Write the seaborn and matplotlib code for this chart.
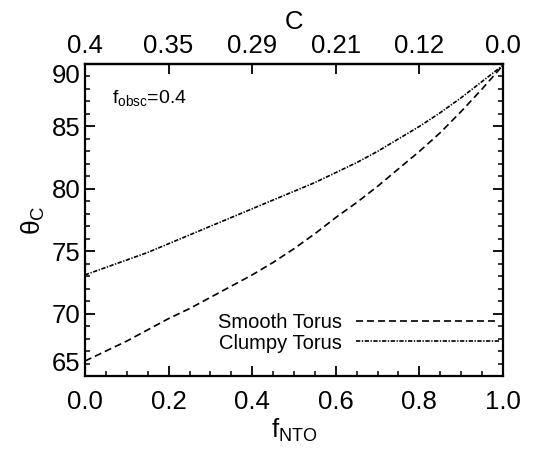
import numpy as np
import pandas as pd
import matplotlib
matplotlib.use("Agg")
import matplotlib.pyplot as plt
import seaborn as sns
from matplotlib.ticker import MultipleLocator, FixedLocator

# ---- data ----
f_nto = [0.0, 0.05, 0.1, 0.15, 0.2, 0.25, 0.3, 0.35, 0.4, 0.45, 0.5,
         0.55, 0.6, 0.65, 0.7, 0.75, 0.8, 0.85, 0.9, 0.95, 1.0]
smooth_theta = [66.2, 67.0, 67.8, 68.7, 69.6, 70.4, 71.3, 72.2, 73.1, 74.1, 75.2,
                76.4, 77.7, 78.9, 80.2, 81.6, 83.0, 84.5, 86.2, 88.0, 89.9]
clumpy_theta = [73.1, 73.7, 74.3, 74.9, 75.6, 76.3, 77.0, 77.7, 78.4, 79.1, 79.8,
                80.5, 81.3, 82.1, 83.0, 84.0, 85.0, 86.1, 87.3, 88.6, 89.9]
series_names = ["Smooth Torus", "Clumpy Torus"]
top_tick_pos = [0.0, 0.2, 0.4, 0.6, 0.8, 1.0]
top_tick_labels = ["0.4", "0.35", "0.29", "0.21", "0.12", "0.0"]

df = pd.DataFrame({
    "f_NTO": f_nto * 2,
    "theta": smooth_theta + clumpy_theta,
    "model": [series_names[0]] * len(f_nto) + [series_names[1]] * len(f_nto),
})

sns.set_theme(style="ticks")
plt.rcParams["font.family"] = ["Liberation Sans", "DejaVu Sans"]
plt.rcParams["mathtext.fontset"] = "custom"
plt.rcParams["mathtext.rm"] = "Liberation Sans"
plt.rcParams["mathtext.it"] = "Liberation Sans"
plt.rcParams["mathtext.bf"] = "Liberation Sans"
for k in ["text.color", "axes.labelcolor", "xtick.color", "ytick.color", "axes.edgecolor"]:
    plt.rcParams[k] = "black"

fig = plt.figure(figsize=(5.53, 4.53), dpi=100)
ax = fig.add_axes([85 / 553, 1 - 376 / 453, 418 / 553, 312 / 453])

lw = 1.2
sns.lineplot(data=df, x="f_NTO", y="theta", style="model", color="black",
             dashes={series_names[0]: (4.2, 2.4), series_names[1]: (2.6, 0.9, 0.8, 0.9)},
             linewidth=lw, ax=ax, legend=True)

ax.set_xlim(0, 1)
ax.set_ylim(65, 90)
ax.xaxis.set_major_locator(MultipleLocator(0.2))
ax.xaxis.set_minor_locator(MultipleLocator(0.05))
ax.yaxis.set_major_locator(MultipleLocator(5))
ax.yaxis.set_minor_locator(MultipleLocator(1))
ax.xaxis.set_major_formatter(matplotlib.ticker.FormatStrFormatter("%.1f"))

for s in ax.spines.values():
    s.set_linewidth(1.6)
    s.set_visible(True)
ax.tick_params(axis="x", which="major", direction="in", length=7, width=1.3, labelsize=18.5,
               top=False, pad=10)
ax.tick_params(axis="y", which="major", direction="in", length=7, width=1.3, labelsize=18.5,
               right=True, pad=3)
ax.tick_params(which="minor", direction="in", length=3.5, width=1.1, top=False, right=True)

# end labels of the y axis kept inside the frame
fig.canvas.draw()
for t in ax.get_yticklabels():
    try:
        v = float(t.get_text())
    except ValueError:
        continue
    if abs(v - 90) < 1e-6:
        t.set_va("top")
    if abs(v - 65) < 1e-6:
        t.set_va("bottom")

ax.set_xlabel(r"$\mathregular{f_{NTO}}$", fontsize=18.5, labelpad=2)
ax.set_ylabel(r"$\mathregular{\theta_C}$", fontsize=19, labelpad=4)

top = ax.secondary_xaxis("top")
top.xaxis.set_major_locator(FixedLocator(top_tick_pos))
top.set_xticklabels(top_tick_labels)
top.tick_params(direction="in", length=7, width=1.3, labelsize=18.5, pad=4)
top.spines["top"].set_linewidth(1.6)
top.set_xlabel("C", fontsize=18.5, labelpad=4)

ax.text(0.065, 0.89, r"$\mathregular{f_{obsc}}$=0.4", transform=ax.transAxes,
        fontsize=14, ha="left", va="center")

leg = ax.legend(loc="lower right", bbox_to_anchor=(1.015, 0.043), frameon=False,
                markerfirst=False, handlelength=7.1, fontsize=14.5,
                labelspacing=0.08, borderpad=0, handletextpad=0.7, title=None)
for line in leg.get_lines():
    line.set_linewidth(lw)

fig.savefig("out.png", dpi=100)
